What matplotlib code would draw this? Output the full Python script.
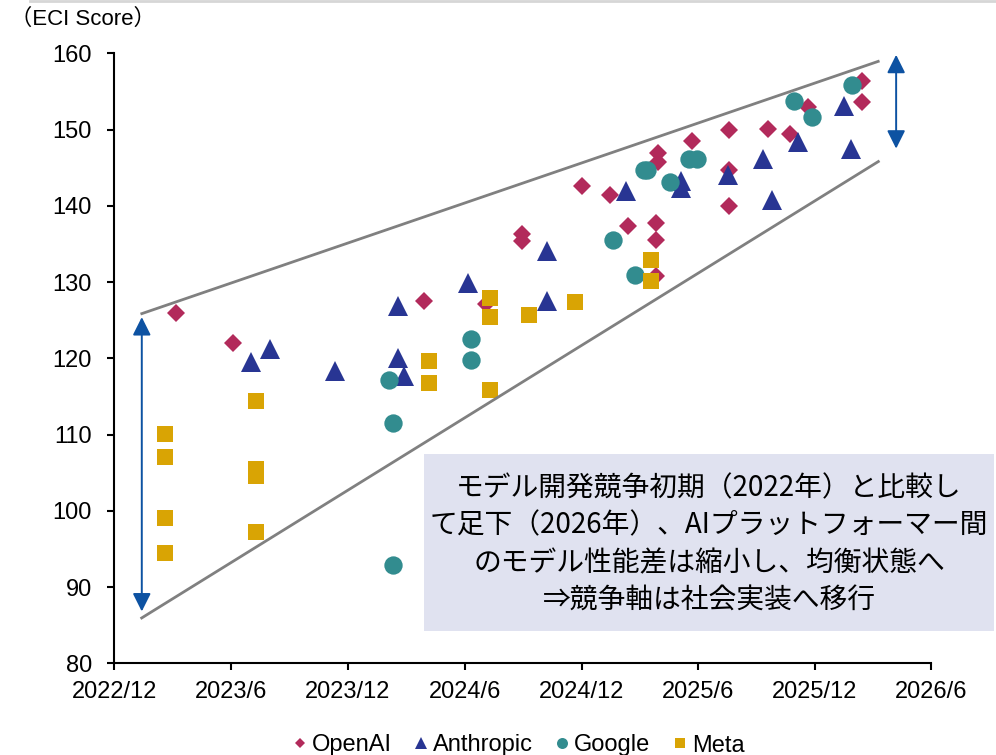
import matplotlib
matplotlib.use("Agg")
import matplotlib.pyplot as plt
import matplotlib.dates as mdates
from matplotlib.lines import Line2D
from matplotlib.patches import Rectangle
import numpy as np

# ---- data: release date and ECI score per model ----
openai_dates = ["2023-03-08", "2023-06-05", "2024-03-29", "2024-07-04", "2024-08-29",
                "2024-08-29", "2024-12-02", "2025-01-14", "2025-02-11", "2025-03-30",
                "2025-03-30", "2025-03-28", "2025-03-28", "2025-03-28", "2025-05-23",
                "2025-07-20", "2025-07-20", "2025-07-19", "2025-09-18", "2025-10-23",
                "2025-11-20", "2026-02-13", "2026-02-12"]
openai_scores = [126.0, 122.0, 127.5, 127.1, 136.3,
                 135.4, 142.6, 141.4, 137.4, 146.9,
                 145.8, 137.7, 135.5, 130.8, 148.5,
                 149.9, 144.7, 140.0, 150.1, 149.4,
                 153.0, 156.4, 153.6]

anthropic_dates = ["2023-07-03", "2023-08-01", "2023-11-12", "2024-02-18", "2024-02-18",
                   "2024-02-27", "2024-06-07", "2024-10-08", "2024-10-08", "2025-02-08",
                   "2025-05-05", "2025-05-05", "2025-07-18", "2025-09-10", "2025-09-25",
                   "2025-11-04", "2026-01-15", "2026-01-27"]
anthropic_scores = [119.55, 121.2, 118.3, 126.9, 120.0,
                    117.7, 129.9, 134.1, 127.5, 141.9,
                    143.3, 142.4, 144.1, 146.1, 140.8,
                    148.4, 153.1, 147.4]

google_dates = ["2024-02-04", "2024-02-10", "2024-02-10", "2024-06-11", "2024-06-11",
                "2025-01-19", "2025-02-22", "2025-03-08", "2025-03-13", "2025-04-18",
                "2025-05-18", "2025-05-31", "2025-10-29", "2025-11-27", "2026-01-28"]
google_scores = [117.2, 111.55, 92.85, 122.5, 119.8,
                 135.5, 130.9, 144.7, 144.7, 143.1,
                 146.1, 146.1, 153.7, 151.7, 155.8]

meta_dates = ["2023-02-18", "2023-02-18", "2023-02-18", "2023-02-18",
              "2023-07-10", "2023-07-10", "2023-07-10", "2023-07-10",
              "2024-04-06", "2024-04-06",
              "2024-07-11", "2024-07-11", "2024-07-11",
              "2024-09-10", "2024-11-21", "2025-03-20", "2025-03-20"]
meta_scores = [110.1, 107.1, 99.05, 94.5,
               114.4, 105.5, 104.6, 97.2,
               119.7, 116.8,
               127.9, 125.45, 115.85,
               125.7, 127.4, 132.9, 130.1]

series_names = ["OpenAI", "Anthropic", "Google", "Meta"]

# convergence envelope (start/end dates and score levels)
envelope_dates = ["2023-01-11", "2026-03-12"]
envelope_upper = [125.8, 159.0]
envelope_lower = [85.85, 145.9]

# spread markers: early gap vs. current gap
spread_early_date, spread_early = "2023-01-13", (125.4, 86.8)
spread_now_date, spread_now = "2026-04-07", (159.8, 147.5)

x_ticks = ["2022-12-01", "2023-06-01", "2023-12-01", "2024-06-01",
           "2024-12-01", "2025-06-01", "2025-12-01", "2026-06-01"]
y_ticks = [80, 90, 100, 110, 120, 130, 140, 150, 160]

note_lines = ["モデル開発競争初期（2022年）と比較し",
              "て足下（2026年）、AIプラットフォーマー間",
              "のモデル性能差は縮小し、均衡状態へ",
              "⇒競争軸は社会実装へ移行"]


def d(values):
    return mdates.datestr2num(values) if isinstance(values, str) else \
        np.array([mdates.datestr2num(v) for v in values])


W, H = 996, 755
plt.rcParams["font.family"] = ["Liberation Sans", "Noto Sans CJK JP", "DejaVu Sans"]

fig = plt.figure(figsize=(W / 100, H / 100), dpi=100)
ax_l, ax_r, ax_t, ax_b = 114.3, 931.3, 53.3, 663.3
ax = fig.add_axes([ax_l / W, 1 - ax_b / H, (ax_r - ax_l) / W, (ax_b - ax_t) / H])

styles = [
    dict(marker="D", color="#B22A5B", markersize=9.2),
    dict(marker="^", color="#283593", markersize=14.5),
    dict(marker="o", color="#328C8F", markersize=13.2),
    dict(marker="s", color="#D9A404", markersize=11.5),
]
all_dates = [openai_dates, anthropic_dates, google_dates, meta_dates]
all_scores = [openai_scores, anthropic_scores, google_scores, meta_scores]

handles = []
for name, ds, sc, st in zip(series_names, all_dates, all_scores, styles):
    h, = ax.plot(d(ds), sc, linestyle="none", marker=st["marker"],
                 markersize=st["markersize"], markerfacecolor=st["color"],
                 markeredgewidth=0, label=name, zorder=3)
    handles.append(h)

# envelope lines
ax.plot(d(envelope_dates), envelope_upper, color="#808080", lw=2.0, zorder=4,
        solid_capstyle="butt")
ax.plot(d(envelope_dates), envelope_lower, color="#808080", lw=2.0, zorder=4,
        solid_capstyle="butt")

# double-headed spread arrows
for xd, (top, bottom) in [(spread_early_date, spread_early), (spread_now_date, spread_now)]:
    ax.annotate("", xy=(d(xd), bottom), xytext=(d(xd), top),
                arrowprops=dict(arrowstyle="<|-|>,head_length=1.1,head_width=0.55",
                                color="#0D52A2", lw=1.4, shrinkA=0, shrinkB=0,
                                mutation_scale=10),
                zorder=5, annotation_clip=False)

ax.set_xlim(d(x_ticks[0]), d(x_ticks[-1]))
ax.set_ylim(y_ticks[0], y_ticks[-1])
ax.set_xticks(d(x_ticks))
ax.set_xticklabels([f"{int(t[:4])}/{int(t[5:7])}" for t in x_ticks])
ax.set_yticks(y_ticks)

for s in ["top", "right"]:
    ax.spines[s].set_visible(False)
for s in ["left", "bottom"]:
    ax.spines[s].set_linewidth(1.5)
    ax.spines[s].set_color("black")
ax.tick_params(axis="both", direction="out", length=5, width=1.5, colors="black",
               labelsize=17)
ax.tick_params(axis="y", pad=11)
ax.tick_params(axis="x", pad=8)
ax.set_facecolor("white")

# axis unit label
fig.text(10 / W, 1 - 19 / H, "（ECI Score）", fontsize=16, ha="left", va="center",
         family=["Liberation Sans", "Noto Sans CJK JP"])

# thin frame line along the top edge
fig.add_artist(Line2D([30 / W, 1.0], [1 - 1.2 / H, 1 - 1.2 / H], color="#d6d6d6", lw=2))

# annotation box
bx0, bx1, by0, by1 = 424, 994, 454, 631
fig.add_artist(Rectangle((bx0 / W, 1 - by1 / H), (bx1 - bx0) / W, (by1 - by0) / H,
                         facecolor="#E0E2F0", edgecolor="none", zorder=6))
fig.text((bx0 + bx1) / 2 / W, 1 - 544.2 / H, "\n".join(note_lines), fontsize=20,
         ha="center", va="center", multialignment="center", linespacing=1.32,
         family=["Noto Sans CJK JP", "DejaVu Sans"], zorder=7, color="black")

# legend along the bottom edge
fig.legend(handles=handles, loc="center", bbox_to_anchor=(519 / W, 1 - 745.5 / H),
           ncol=4, frameon=False, fontsize=17, markerscale=0.6, handlelength=0.5,
           handletextpad=0.25, columnspacing=1.0, borderaxespad=0, borderpad=0)

fig.savefig("out.png", dpi=100, facecolor="white")
